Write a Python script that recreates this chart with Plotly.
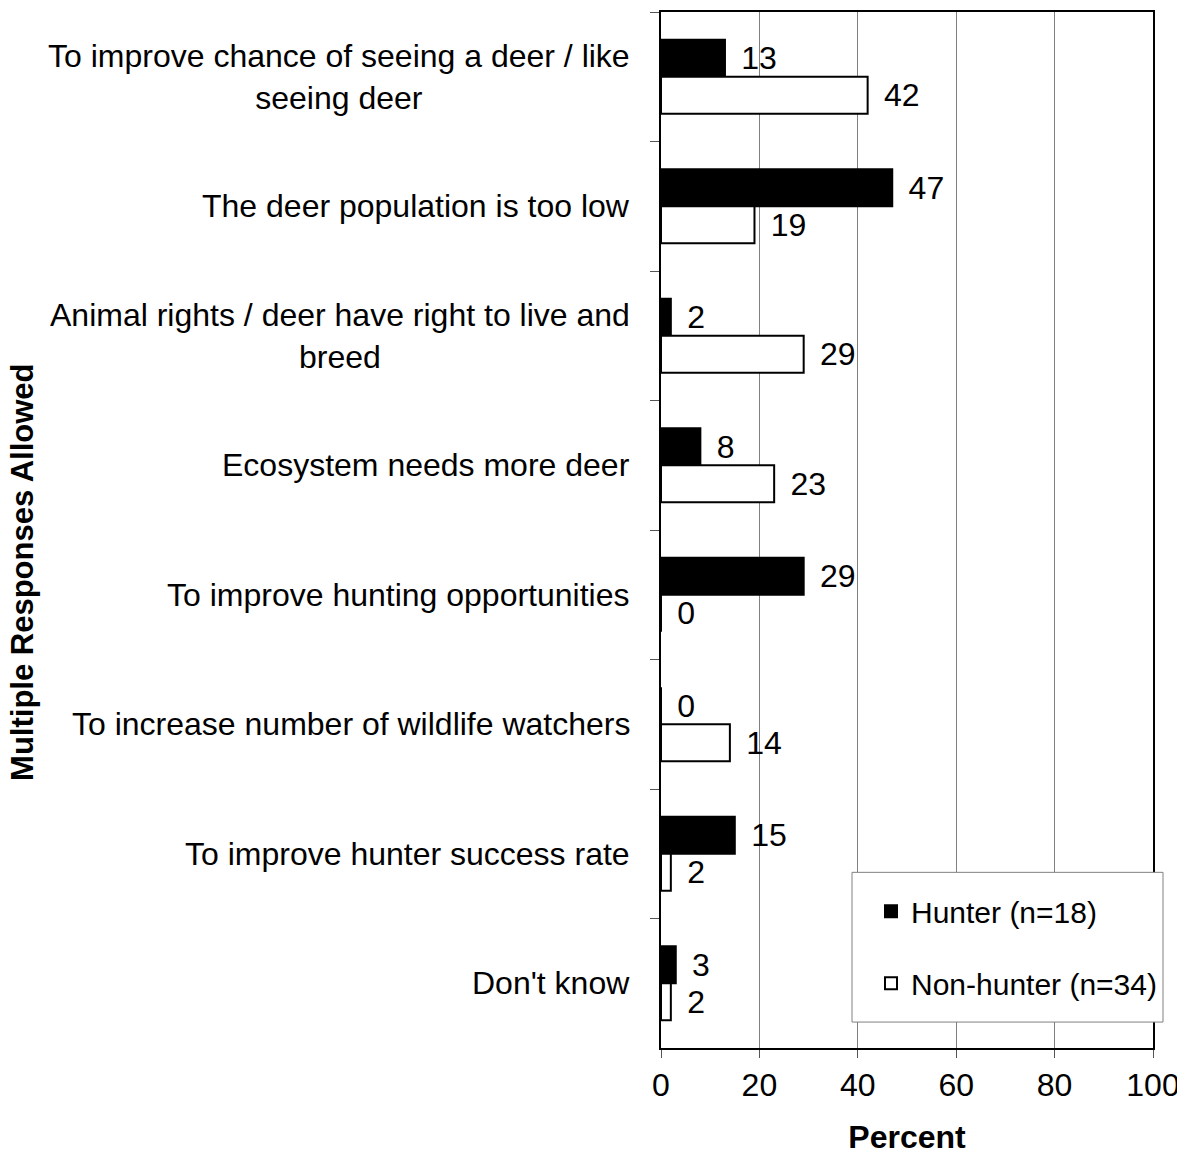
import plotly.graph_objects as go

categories = [
    "To improve chance of seeing a deer / like<br>seeing deer",
    "The deer population is too low",
    "Animal rights / deer have right to live and<br>breed",
    "Ecosystem needs more deer",
    "To improve hunting opportunities",
    "To increase number of wildlife watchers",
    "To improve hunter success rate",
    "Don't know",
]
hunter = [13, 47, 2, 8, 29, 0, 15, 3]
non_hunter = [42, 19, 29, 23, 0, 14, 2, 2]
series_names = ["Hunter (n=18)", "Non-hunter (n=34)"]
x_ticks = [0, 20, 40, 60, 80, 100]

FONT = "Liberation Sans, Arial, Helvetica, sans-serif"
OFF = 8  # browser body margin
W, H = 1185 - OFF, 1155 - OFF
PL, PR, PT, PB = 661, 1153, 10, 1048  # plot area in screen pixels
L, T = PL - OFF, PT - OFF
R = W - (PR - OFF)
B = H - (PB - OFF)
PW, PH = PR - PL, PB - PT

def px_x(p):
    return (p - PL) / PW

def px_y(p):
    return (PB - p) / PH

PAD = "\u2004\u200a"

fig = go.Figure()
fig.add_trace(go.Bar(
    y=categories, x=hunter, orientation="h", name=series_names[0],
    marker=dict(color="black", line=dict(color="black", width=2)),
    text=[PAD + str(v) for v in hunter], textposition="outside",
    textfont=dict(size=32, color="black", family=FONT),
    cliponaxis=False, constraintext="none", legendgroup="a",
))
fig.add_trace(go.Bar(
    y=categories, x=non_hunter, orientation="h", name=series_names[1],
    marker=dict(color="white", line=dict(color="black", width=2)),
    text=[PAD + str(v) for v in non_hunter], textposition="outside",
    textfont=dict(size=32, color="black", family=FONT),
    cliponaxis=False, constraintext="none", legendgroup="b",
))

annotations = []
for c in categories:
    annotations.append(dict(
        x=px_x(632), xref="paper", y=c, yref="y", xanchor="right", yanchor="middle",
        text=c, align="center", showarrow=False,
        font=dict(size=32, color="black", family=FONT),
    ))
annotations.append(dict(
    x=px_x(23), xref="paper", y=px_y(572), yref="paper", xanchor="center", yanchor="middle",
    text="<b>Multiple Responses Allowed</b>", textangle=-90, showarrow=False,
    font=dict(size=31, color="black", family=FONT),
))

shapes = [dict(
    type="rect", xref="paper", yref="paper",
    x0=px_x(852), x1=px_x(1163), y0=px_y(1022), y1=px_y(872),
    fillcolor="white", line=dict(color="#808080", width=1), layer="above",
)]

fig.update_layout(
    width=W, height=H,
    margin=dict(l=L, r=R, t=T, b=B, pad=0),
    paper_bgcolor="white", plot_bgcolor="white",
    barmode="group", bargap=0.43, bargroupgap=0,
    font=dict(family=FONT, color="black"),
    showlegend=True,
    legend=dict(
        x=px_x(871), y=px_y(885), xanchor="left", yanchor="top",
        bgcolor="rgba(0,0,0,0)", borderwidth=0,
        font=dict(size=30, color="black", family=FONT),
        traceorder="grouped", tracegroupgap=30,
    ),
    annotations=annotations,
    shapes=shapes,
    xaxis=dict(
        range=[0, 100], tickvals=x_ticks, ticktext=[str(v) for v in x_ticks],
        showgrid=True, gridcolor="#808080", gridwidth=1,
        showline=True, linecolor="black", linewidth=2, mirror=True,
        ticks="outside", ticklen=8, tickcolor="#555555",
        tickfont=dict(size=32, color="black", family=FONT),
        zeroline=False,
        title=dict(text="<b>Percent</b>", font=dict(size=32, color="black", family=FONT), standoff=26),
    ),
    yaxis=dict(
        autorange="reversed", type="category",
        showticklabels=False,
        ticks="outside", tickson="boundaries", ticklen=9, tickcolor="#555555",
        showline=True, linecolor="black", linewidth=2, mirror=True,
        showgrid=False, zeroline=False,
    ),
)

fig.write_html("out.html")
